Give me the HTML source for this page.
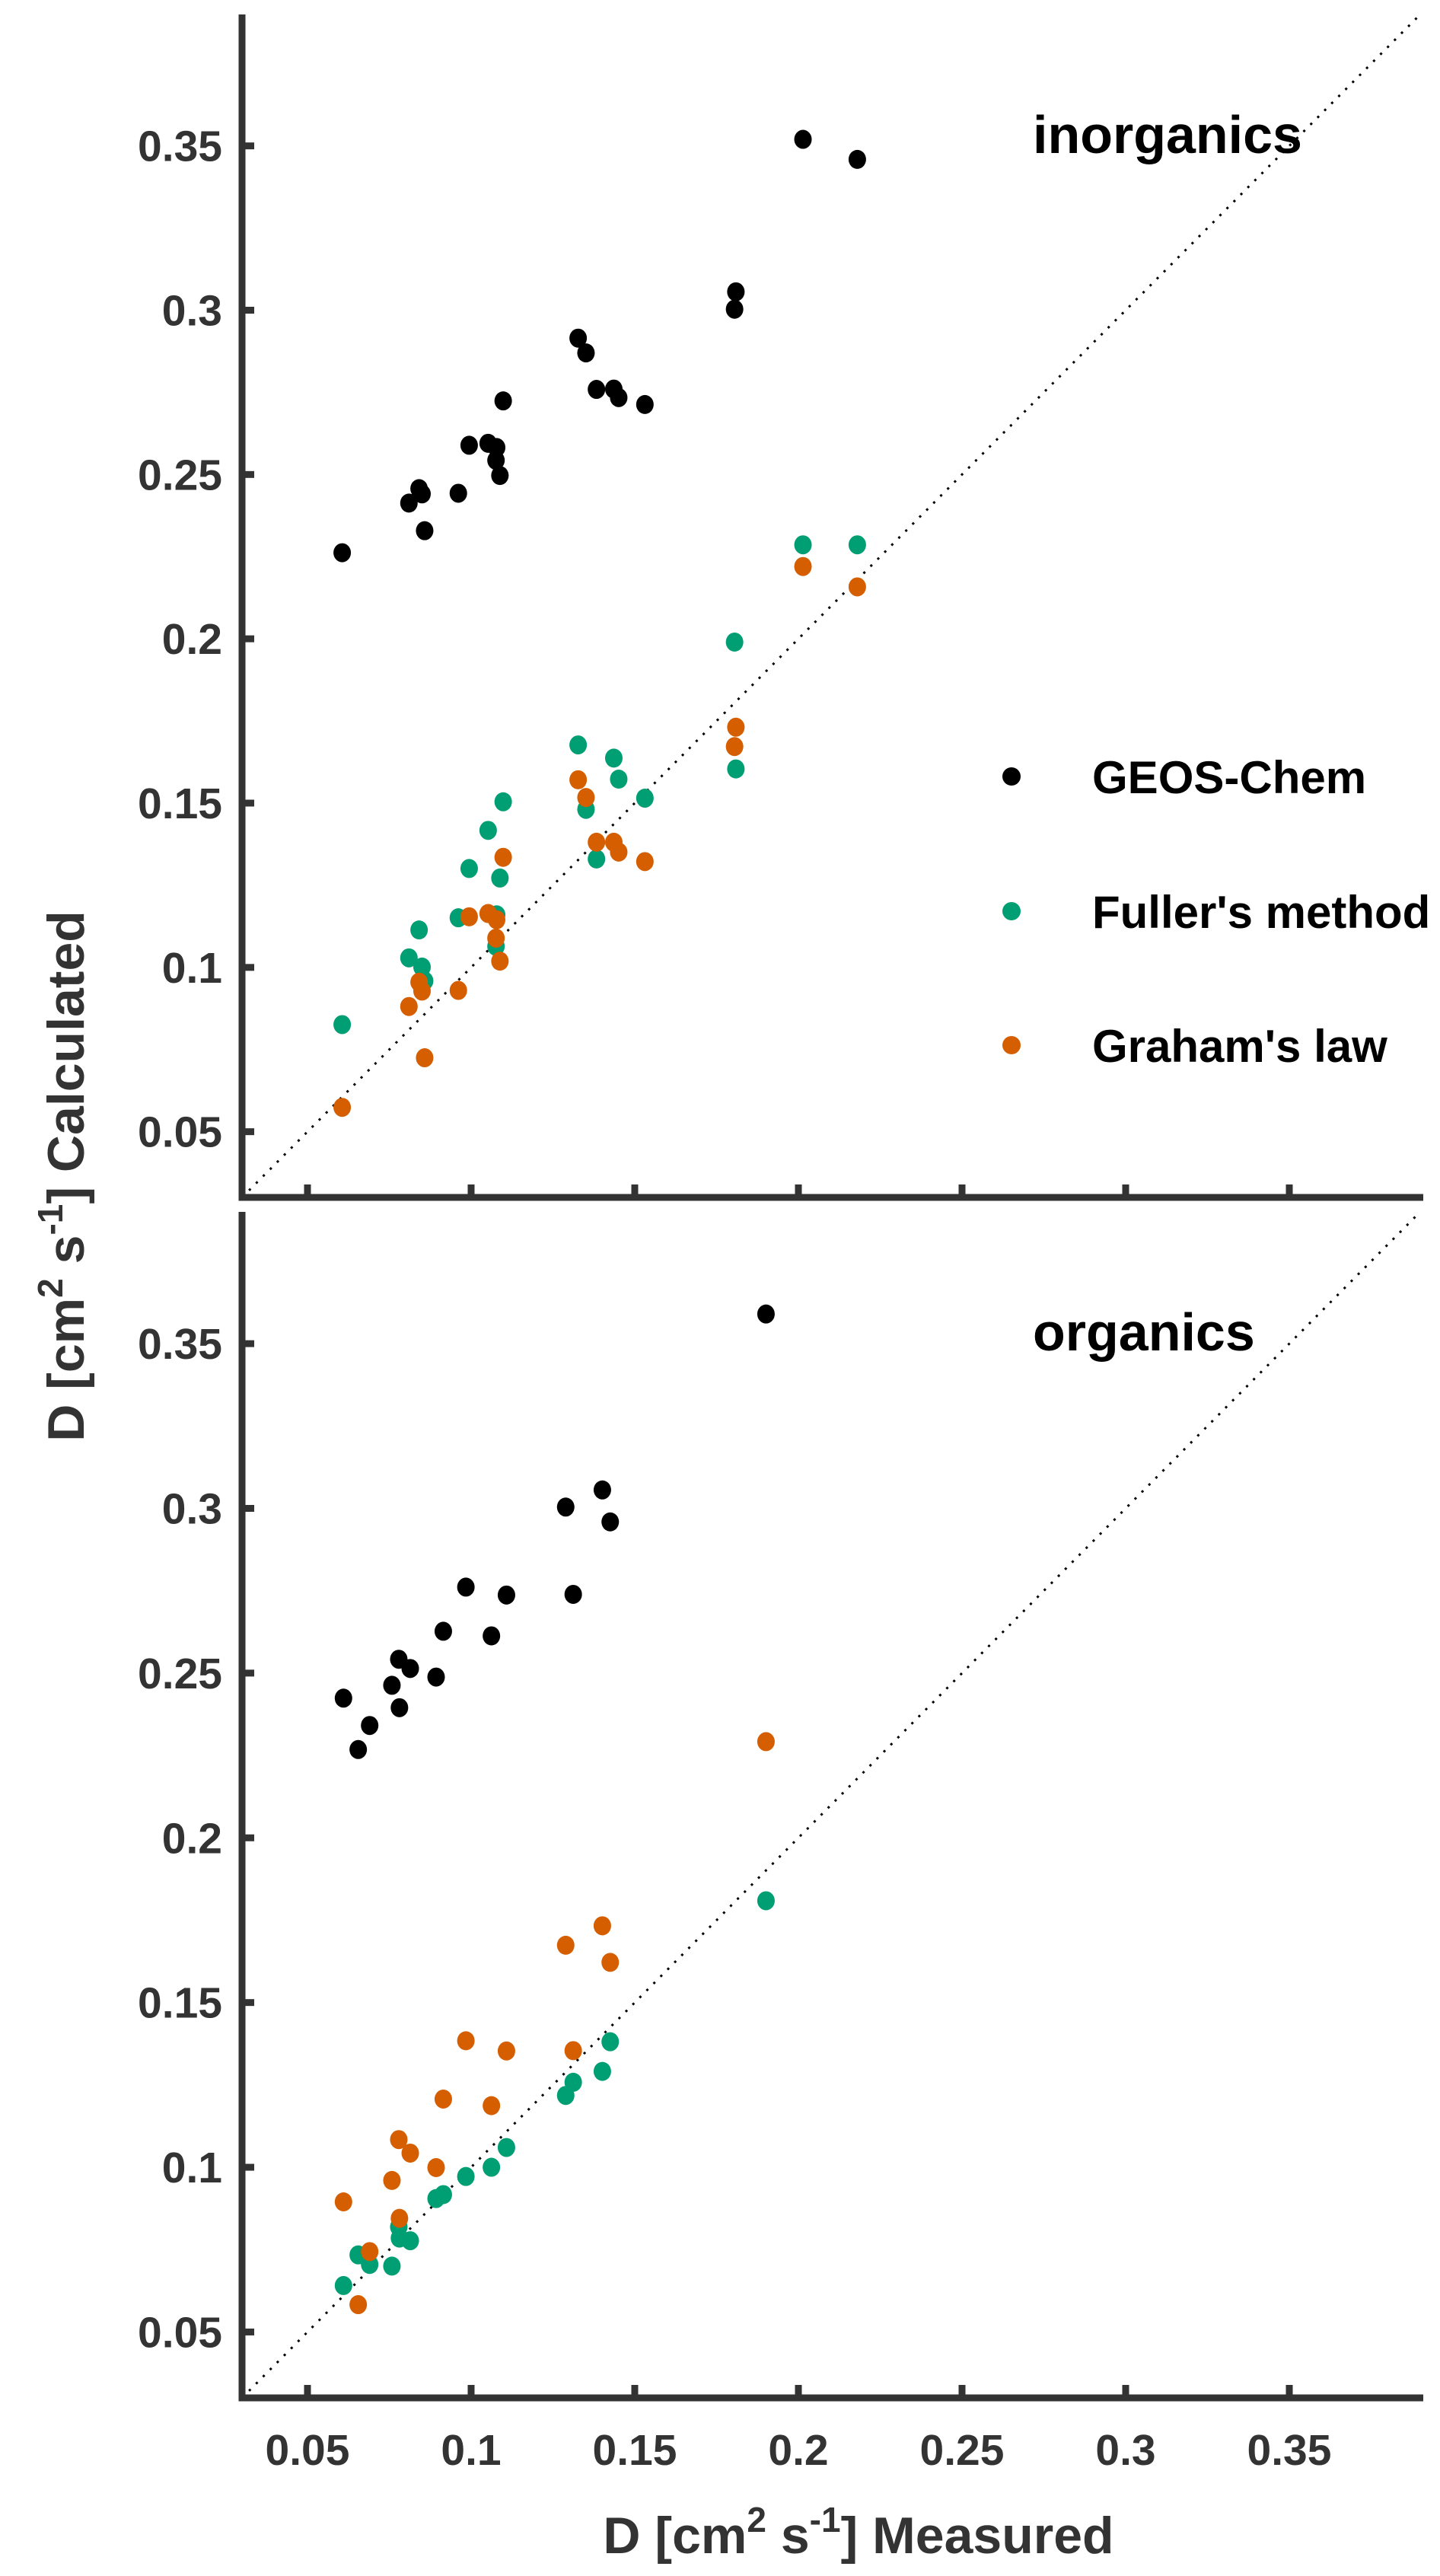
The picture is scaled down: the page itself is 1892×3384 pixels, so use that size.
<!DOCTYPE html>
<html><head><meta charset="utf-8"><style>
html,body{margin:0;padding:0;background:#fff;}
svg{display:block;font-family:"Liberation Sans",Arial,sans-serif;}
</style></head><body>
<svg id="chart" width="1892" height="3384" viewBox="0 0 1892 3384" xmlns="http://www.w3.org/2000/svg"></svg>
<script>
// ---- data ----
const xTicks = [0.05, 0.1, 0.15, 0.2, 0.25, 0.3, 0.35];
const xTickLabels = ["0.05", "0.1", "0.15", "0.2", "0.25", "0.3", "0.35"];
const yTicks = [0.05, 0.1, 0.15, 0.2, 0.25, 0.3, 0.35];
const yTickLabels = ["0.05", "0.1", "0.15", "0.2", "0.25", "0.3", "0.35"];
const seriesNames = ["GEOS-Chem", "Fuller's method", "Graham's law"];

const inorgMeasured = [0.0606,0.081,0.0841,0.085,0.0858,0.0961,0.0994,0.1052,0.1076,0.1078,0.1088,0.1098,0.1327,0.1351,0.1383,0.1436,0.1451,0.1531,0.1805,0.1809,0.2014,0.218];
const inorgGeos = [0.2262,0.2413,0.2457,0.2441,0.2329,0.2443,0.2589,0.2595,0.2543,0.2582,0.2497,0.2724,0.2915,0.287,0.2759,0.276,0.2734,0.2713,0.3003,0.3056,0.352,0.3459];
const inorgFuller = [0.0826,0.1029,0.1114,0.1001,0.0959,0.1151,0.1301,0.1417,0.1064,0.116,0.1272,0.1504,0.1677,0.1481,0.133,0.1637,0.1573,0.1515,0.199,0.1604,0.2286,0.2286];
const inorgGraham = [0.0574,0.0881,0.0955,0.0928,0.0725,0.093,0.1154,0.1164,0.1089,0.1145,0.1019,0.1335,0.1571,0.1517,0.1381,0.1381,0.1351,0.1322,0.1672,0.1731,0.222,0.2158];

const orgMeasured = [0.061,0.0655,0.069,0.0758,0.0779,0.0781,0.0814,0.0893,0.0915,0.0984,0.1062,0.1108,0.1289,0.1312,0.1401,0.1425,0.1901];
const orgGeos = [0.2424,0.2268,0.2341,0.2463,0.2542,0.2395,0.2514,0.2488,0.2627,0.2761,0.2613,0.2737,0.3004,0.2739,0.3056,0.2959,0.359];
const orgFuller = [0.0641,0.0734,0.0705,0.0700,0.0819,0.0785,0.0777,0.0905,0.0917,0.0972,0.1000,0.1060,0.1218,0.1258,0.1291,0.1381,0.1809];
const orgGraham = [0.0895,0.0583,0.0744,0.0960,0.1084,0.0845,0.1043,0.0999,0.1207,0.1384,0.1187,0.1353,0.1674,0.1354,0.1733,0.1622,0.2292];

// ---- layout ----
const NS = "http://www.w3.org/2000/svg";
const svg = document.getElementById("chart");
const AX = "#333333";
const COLORS = ["#000000", "#009E73", "#D55E00"];
const LO = 0.03, HI = 0.39;
const X0 = 318, X1 = 1866;
const xScale = v => X0 + (v - LO) / (HI - LO) * (X1 - X0);

function mk(tag, attrs, parent) {
  const e = document.createElementNS(NS, tag);
  for (const k in attrs) e.setAttribute(k, attrs[k]);
  (parent || svg).appendChild(e);
  return e;
}

function panel(top, bottom, name, label, mx, sets, showXLabels) {
  const g = mk("g", {});
  
  
  const yScale = v => bottom - (v - LO) / (HI - LO) * (bottom - top);
  const d = mk("line", {x1: xScale(LO), y1: yScale(LO), x2: xScale(HI), y2: yScale(HI), stroke: "#000", "stroke-width": 3, "stroke-dasharray": "3 10"}, g);
  
  
  const ya = mk("line", {x1: X0, y1: top, x2: X0, y2: bottom + 4.5, stroke: AX, "stroke-width": 9}, g);
  
  
  const xa = mk("line", {x1: X0 - 4.5, y1: bottom, x2: X1 + 4, y2: bottom, stroke: AX, "stroke-width": 9}, g);
  
  
  yTicks.forEach((v, i) => {
    const y = yScale(v);
    const t = mk("line", {x1: X0, y1: y, x2: X0 + 16, y2: y, stroke: AX, "stroke-width": 9}, g);
    
    
    const l = mk("text", {x: 292, y: y + 20, "text-anchor": "end", "font-size": 57, "font-weight": "bold", fill: AX}, g);
    l.textContent = yTickLabels[i];
    
    
  });
  xTicks.forEach((v, i) => {
    const x = xScale(v);
    const t = mk("line", {x1: x, y1: bottom, x2: x, y2: bottom - 17, stroke: AX, "stroke-width": 9}, g);
    
    
    if (showXLabels) {
      const l = mk("text", {x: x, y: bottom + 88, "text-anchor": "middle", "font-size": 57, "font-weight": "bold", fill: AX}, g);
      l.textContent = xTickLabels[i];
      
      
    }
  });
  sets.forEach((ys, si) => {
    const sg = mk("g", {fill: COLORS[si]}, g);
    
    
    ys.forEach((v, i) => {
      const c = mk("ellipse", {cx: xScale(mx[i]), cy: yScale(v), rx: 11.5, ry: 12.5}, sg);
      
      
    });
  });
  const lt = mk("text", {x: 1357, y: top + 182, "font-size": 70, "font-weight": "bold", fill: "#000"}, g);
  lt.textContent = label;
  
  
}

panel(19, 1573, "inorganics-panel", "inorganics", inorgMeasured, [inorgGeos, inorgFuller, inorgGraham], false);
panel(1592, 3150, "organics-panel", "organics", orgMeasured, [orgGeos, orgFuller, orgGraham], true);

const lg = mk("g", {});


const legY = [1020, 1197, 1373];
seriesNames.forEach((n, i) => {
  const eg = mk("g", {}, lg);
  
  
  const m = mk("ellipse", {cx: 1329, cy: legY[i], rx: 12, ry: 12, fill: COLORS[i]}, eg);
  
  
  const t = mk("text", {x: 1435, y: legY[i] + 22, "font-size": 60, "font-weight": "bold", fill: "#000"}, eg);
  t.textContent = n;
  
  
});
</script>
<svg width="1892" height="3384" style="position:absolute;left:0;top:0;font-family:'Liberation Sans',Arial,sans-serif;" xmlns="http://www.w3.org/2000/svg">
  <text x="1128" y="3354" text-anchor="middle" font-size="68" font-weight="bold" fill="#333">D [cm<tspan dy="-28" font-size="46">2</tspan><tspan dy="28"> s</tspan><tspan dy="-28" font-size="46">-1</tspan><tspan dy="28">] Measured</tspan></text>
  <text transform="translate(110,1545) rotate(-90)" text-anchor="middle" font-size="68" font-weight="bold" fill="#333">D [cm<tspan dy="-28" font-size="46">2</tspan><tspan dy="28"> s</tspan><tspan dy="-28" font-size="46">-1</tspan><tspan dy="28">] Calculated</tspan></text>
</svg>
</body></html>
